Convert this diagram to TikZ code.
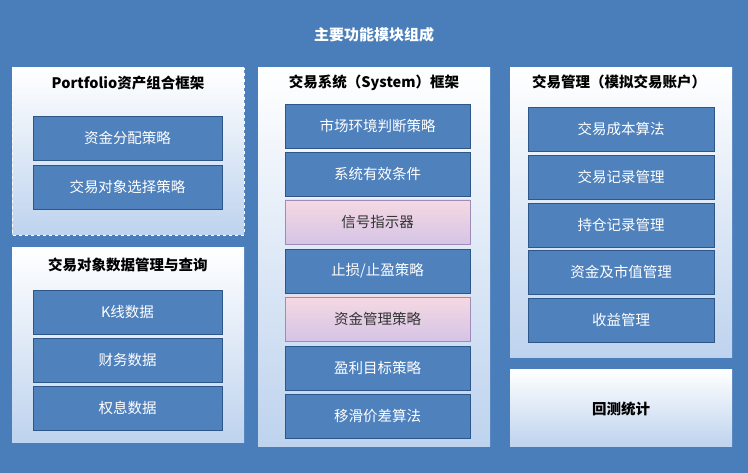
\documentclass[tikz,border=0pt]{standalone}
\usepackage{fontspec}
\setmainfont{Noto Sans CJK SC}
\begin{document}
\begin{tikzpicture}[x=1pt,y=-1pt,
 panel/.style={top color=white, bottom color=pbot},
 bluebox/.style={draw=bborder, line width=0.8pt, fill=bfill, text=white, font=\fontsize{14.5}{16}\selectfont},
 pinkbox/.style={draw=pborder, line width=0.8pt, top color=white!85!purple, bottom color=pinkb, text=black!80, font=\fontsize{14.5}{16}\selectfont},
 ptitle/.style={font=\bfseries\fontsize{14.5}{16}\selectfont, text=black}]
\definecolor{bg}{HTML}{4A7EBB}
\definecolor{pbot}{HTML}{BED3EE}
\definecolor{bfill}{HTML}{4F81BD}
\definecolor{bborder}{HTML}{2F5688}
\definecolor{pborder}{HTML}{A08BB8}
\definecolor{pinkb}{HTML}{D5C4E6}
\fill[bg] (0,0) rectangle (748,473);
\useasboundingbox (0,0) rectangle (748,473);
\node[font=\bfseries\fontsize{15}{17}\selectfont, text=white] (title) at (374,35) {主要功能模块组成};
% panels
\fill[panel] (12,68) rectangle (244,235);
\draw[white, dashed, line width=0.8pt] (12,68) rectangle (244,235);
\node[ptitle] (p1t) at (128,83) {Portfolio资产组合框架};
\fill[panel] (12,248) rectangle (244,442);
\node[ptitle] (p2t) at (128,265) {交易对象数据管理与查询};
\fill[panel] (258,68) rectangle (490,446);
\node[ptitle] (p3t) at (374,83) {交易系统（System）框架};
\fill[panel] (510,68) rectangle (732,358);
\node[ptitle] (p4t) at (619,82) {交易管理（模拟交易账户）};
\fill[panel] (510,370) rectangle (732,446);
\node[ptitle] (p5t) at (621,409) {回测统计};
% panel 1
\node[bluebox, minimum width=189, minimum height=44] (a1) at (127.5,138) {资金分配策略};
\node[bluebox, minimum width=189, minimum height=44] (a2) at (127.5,187) {交易对象选择策略};
% panel 2
\node[bluebox, minimum width=189, minimum height=44] (b1) at (127.5,312) {K线数据};
\node[bluebox, minimum width=189, minimum height=44] (b2) at (127.5,360) {财务数据};
\node[bluebox, minimum width=189, minimum height=44] (b3) at (127.5,408) {权息数据};
% panel 3
\foreach \n/\y/\t/\s in {c1/126/{市场环境判断策略}/bluebox, c2/174/{系统有效条件}/bluebox, c3/222/{信号指示器}/pinkbox, c4/271/{止损/止盈策略}/bluebox, c5/319/{资金管理策略}/pinkbox, c6/368/{盈利目标策略}/bluebox, c7/416/{移滑价差算法}/bluebox}
  \node[\s, minimum width=185, minimum height=44] (\n) at (377.5,\y) {\t};
% panel 4
\foreach \n/\y/\t in {d1/129/交易成本算法, d2/177/交易记录管理, d3/225/持仓记录管理, d4/272/资金及市值管理, d5/320/收益管理}
  \node[bluebox, minimum width=186, minimum height=44] (\n) at (621,\y) {\t};
\end{tikzpicture}
\end{document}
